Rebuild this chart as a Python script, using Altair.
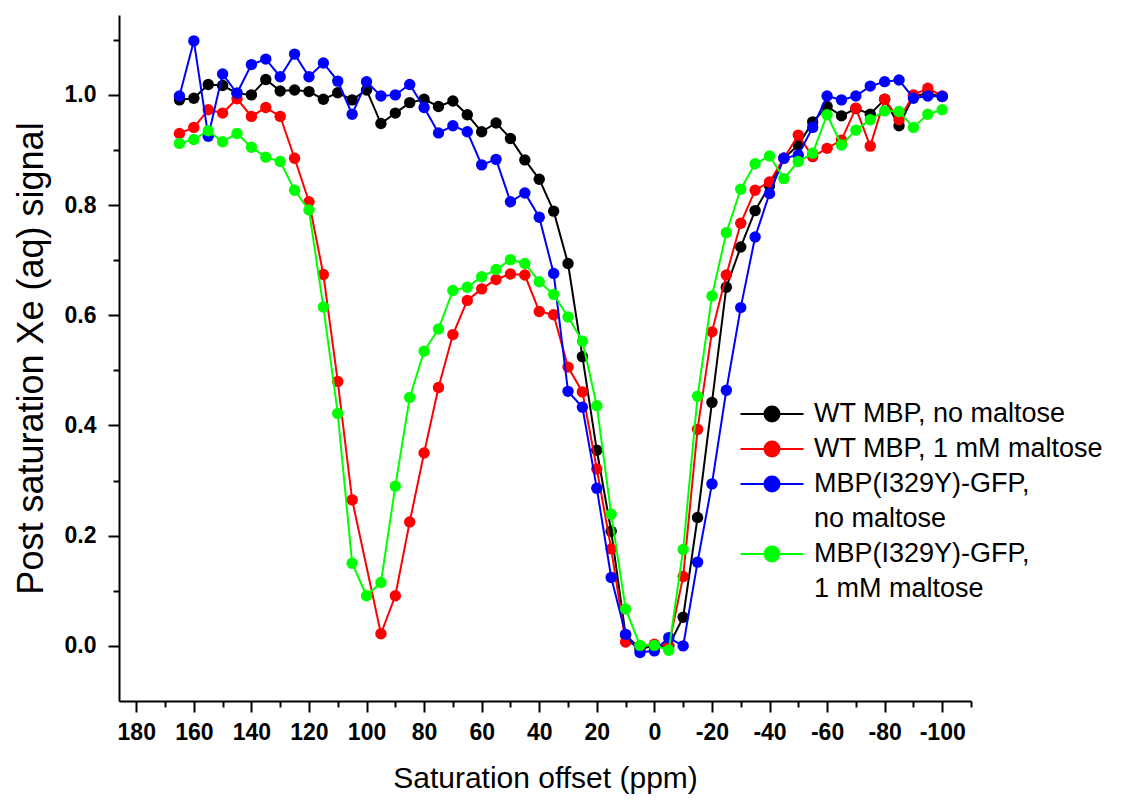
import altair as alt
import pandas as pd

# Saturation offset (ppm), one value every 5 ppm
offset_ppm = [165, 160, 155, 150, 145, 140, 135, 130, 125, 120, 115, 110, 105, 100,
              95, 90, 85, 80, 75, 70, 65, 60, 55, 50, 45, 40, 35, 30, 25, 20, 15, 10,
              5, 0, -5, -10, -15, -20, -25, -30, -35, -40, -45, -50, -55, -60, -65,
              -70, -75, -80, -85, -90, -95, -100]

wt_no_maltose = [0.991, 0.994, 1.019, 1.017, 1.003, 1.000, 1.028, 1.007, 1.009, 1.006,
                 0.992, 1.004, 0.991, 1.009, 0.948, 0.967, 0.986, 0.992, 0.979, 0.989,
                 0.964, 0.933, 0.949, 0.921, 0.882, 0.847, 0.789, 0.694, 0.525, 0.355,
                 0.208, 0.020, -0.005, 0.000, 0.000, 0.052, 0.233, 0.442, 0.651, 0.724,
                 0.790, 0.835, 0.885, 0.909, 0.951, 0.979, 0.962, 0.975, 0.965, 0.992,
                 0.944, 0.998, 1.002, 0.997]

wt_maltose = [0.930, 0.941, 0.973, 0.967, 0.993, 0.961, 0.977, 0.961, 0.885, 0.806,
              0.674, 0.480, 0.265, None, 0.022, 0.091, 0.225, 0.350, 0.469, 0.565,
              0.627, 0.648, 0.665, 0.675, 0.673, 0.607, 0.601, 0.506, 0.461, 0.321,
              0.176, 0.007, 0.000, 0.003, 0.000, 0.126, 0.393, 0.570, 0.673, 0.767,
              0.827, 0.842, 0.885, 0.927, 0.888, 0.903, 0.918, 0.976, 0.907, 0.992,
              0.955, 1.000, 1.012, 0.998]

mut_no_maltose = [0.998, 1.098, 0.925, 1.038, 1.003, 1.055, 1.065, 1.033, 1.074, 1.033,
                  1.058, 1.025, 0.965, 1.024, 0.998, 1.000, 1.019, 0.977, 0.931, 0.944,
                  0.933, 0.873, 0.883, 0.806, 0.822, 0.778, 0.676, 0.462, 0.433, 0.286,
                  0.124, 0.021, -0.012, -0.009, 0.015, 0.000, 0.152, 0.294, 0.464, 0.614,
                  0.742, 0.821, 0.885, 0.891, 0.941, 0.998, 0.991, 0.998, 1.016, 1.024,
                  1.027, 0.994, 0.998, 0.997]

mut_maltose = [0.912, 0.919, 0.935, 0.915, 0.930, 0.905, 0.887, 0.879, 0.827, 0.791,
               0.615, 0.422, 0.150, 0.091, 0.115, 0.290, 0.451, 0.535, 0.575, 0.645,
               0.651, 0.670, 0.683, 0.701, 0.694, 0.661, 0.638, 0.597, 0.553, 0.436,
               0.239, 0.067, 0.001, 0.001, -0.008, 0.175, 0.453, 0.635, 0.750, 0.829,
               0.875, 0.889, 0.848, 0.879, 0.894, 0.964, 0.909, 0.936, 0.955, 0.971,
               0.970, 0.941, 0.965, 0.973]

series_names = ["WT MBP, no maltose", "WT MBP, 1 mM maltose",
                "MBP(I329Y)-GFP,\nno maltose", "MBP(I329Y)-GFP,\n1 mM maltose"]
series_values = [wt_no_maltose, wt_maltose, mut_no_maltose, mut_maltose]
series_colors = ["#000000", "#ff0000", "#0000ff", "#00ff00"]

x_tick_values = [180, 170, 160, 150, 140, 130, 120, 110, 100, 90, 80, 70, 60, 50, 40,
                 30, 20, 10, 0, -10, -20, -30, -40, -50, -60, -70, -80, -90, -100, -110]
y_tick_values = [0.0, 0.1, 0.2, 0.3, 0.4, 0.5, 0.6, 0.7, 0.8, 0.9, 1.0, 1.1]

rows = []
for name, vals in zip(series_names, series_values):
    for x, v in zip(offset_ppm, vals):
        if v is not None:
            rows.append({"offset": x, "signal": v, "series": name})
df = pd.DataFrame(rows)

font = "Liberation Sans, Arial, sans-serif"

common_axis = dict(
    domainColor="black", domainWidth=2, tickColor="black", tickWidth=2,
    labelColor="black", titleColor="black", grid=False,
    labelOverlap=False, labelFlush=False,
    labelFont=font, labelFontWeight="bold", labelFontSize=23,
    titleFont=font, titleFontWeight="normal",
)

x_enc = alt.X(
    "offset:Q",
    scale=alt.Scale(domain=[186, -110], nice=False, zero=False),
    axis=alt.Axis(
        title="Saturation offset (ppm)",
        values=x_tick_values,
        labelExpr="datum.value % 20 === 0 ? '' + datum.value : ''",
        tickSize={"condition": {"test": "datum.value % 20 === 0", "value": 11}, "value": 6},
        labelPadding=9, titleFontSize=30, titlePadding=19,
        **common_axis,
    ),
)
y_enc = alt.Y(
    "signal:Q",
    scale=alt.Scale(domain=[-0.1, 1.145], nice=False, zero=False),
    axis=alt.Axis(
        title="Post saturation Xe (aq) signal",
        values=y_tick_values,
        labelExpr="round(datum.value * 10) % 2 === 0 ? format(datum.value, '.1f') : ''",
        tickSize={"condition": {"test": "round(datum.value * 10) % 2 === 0", "value": 11}, "value": 6},
        labelPadding=12, titleFontSize=36, titlePadding=14,
        **common_axis,
    ),
)

legend_symbol = "M-2.1,0L2.1,0M-0.5,0A0.5,0.5,0,1,0,0.5,0A0.5,0.5,0,1,0,-0.5,0Z"
color_enc = alt.Color(
    "series:N",
    scale=alt.Scale(domain=series_names, range=series_colors),
    sort=series_names,
    legend=alt.Legend(
        title=None, orient="none", legendX=637, legendY=383,
        symbolType=legend_symbol, symbolSize=900, symbolStrokeWidth=2,
        labelFont=font, labelFontSize=27, labelLimit=0, labelColor="black",
        labelExpr="split(datum.label, '\\n')",
        rowPadding=6, symbolOffset=0, labelOffset=26, padding=0,
    ),
)

layers = []
for name in series_names:
    base = alt.Chart(df).transform_filter(alt.datum.series == name)
    layers.append(base.mark_line(strokeWidth=2).encode(x=x_enc, y=y_enc, color=color_enc))
    layers.append(base.mark_point(filled=True, size=130, opacity=1).encode(
        x=x_enc, y=y_enc, color=color_enc))

chart = alt.layer(*layers).properties(
    width=852, height=686,
    background="white",
    autosize=alt.AutoSizeParams(type="none"),
    padding={"left": 119, "top": 15, "right": 151, "bottom": 103},
).configure(
    style={"guide-label": {"lineHeight": 35}}
).configure_view(stroke=None)

chart.save("out.html", embed_options={"renderer": "svg", "actions": False})
